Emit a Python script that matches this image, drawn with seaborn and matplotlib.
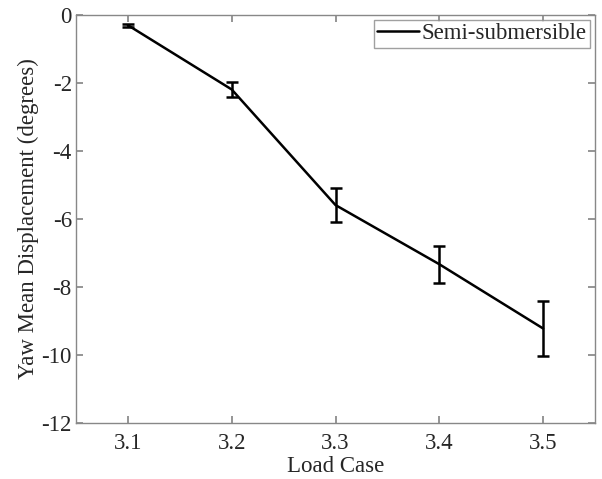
import matplotlib
matplotlib.use("Agg")
import matplotlib.pyplot as plt
import seaborn as sns
import pandas as pd

load_case = [3.1, 3.2, 3.3, 3.4, 3.5]
yaw_mean = [-0.30, -2.19, -5.59, -7.33, -9.22]
yaw_err = [0.04, 0.22, 0.49, 0.55, 0.82]
x_ticks = [3.1, 3.2, 3.3, 3.4, 3.5]
y_ticks = [0, -2, -4, -6, -8, -10, -12]

sns.set_theme(style="white")
plt.rcParams['font.family'] = ['Liberation Serif', 'DejaVu Serif']

df = pd.DataFrame({"Load Case": load_case, "Yaw": yaw_mean, "err": yaw_err})

fig = plt.figure(figsize=(6.02, 4.79), dpi=100)
ax = fig.add_axes([76/602, 1-423/479, (595-76)/602, (423-15)/479])

sns.lineplot(data=df, x="Load Case", y="Yaw", ax=ax, color="black", lw=1.8,
             label="Semi-submersible")
ax.errorbar(df["Load Case"], df["Yaw"], yerr=df["err"], fmt="none",
            ecolor="black", elinewidth=1.8, capsize=4, capthick=1.8)

FS = 16.5
ax.set_xlim(3.05, 3.55)
ax.set_ylim(-12, 0)
ax.set_xticks(x_ticks)
ax.set_xticklabels([f"{v:.1f}" for v in x_ticks])
ax.set_yticks(y_ticks)
ax.set_yticklabels([f"{v:d}" for v in y_ticks])
ax.set_xlabel("Load Case", fontsize=FS, labelpad=2)
ax.set_ylabel("Yaw Mean Displacement (degrees)", fontsize=FS, labelpad=2)
ax.tick_params(axis='both', which='both', direction='in', length=5,
               labelsize=FS, color='#888888', top=True, right=True,
               bottom=True, left=True, pad=3)
ax.tick_params(axis='x', pad=7)
for s in ax.spines.values():
    s.set_color('#888888')
    s.set_linewidth(1.0)

leg = ax.legend(loc='upper right', fontsize=FS, frameon=True, fancybox=False,
                edgecolor='#888888', handlelength=1.8, borderpad=0.15,
                handletextpad=0.15, borderaxespad=0.2)
leg.get_frame().set_linewidth(1.0)

fig.savefig("out.png", dpi=100)
